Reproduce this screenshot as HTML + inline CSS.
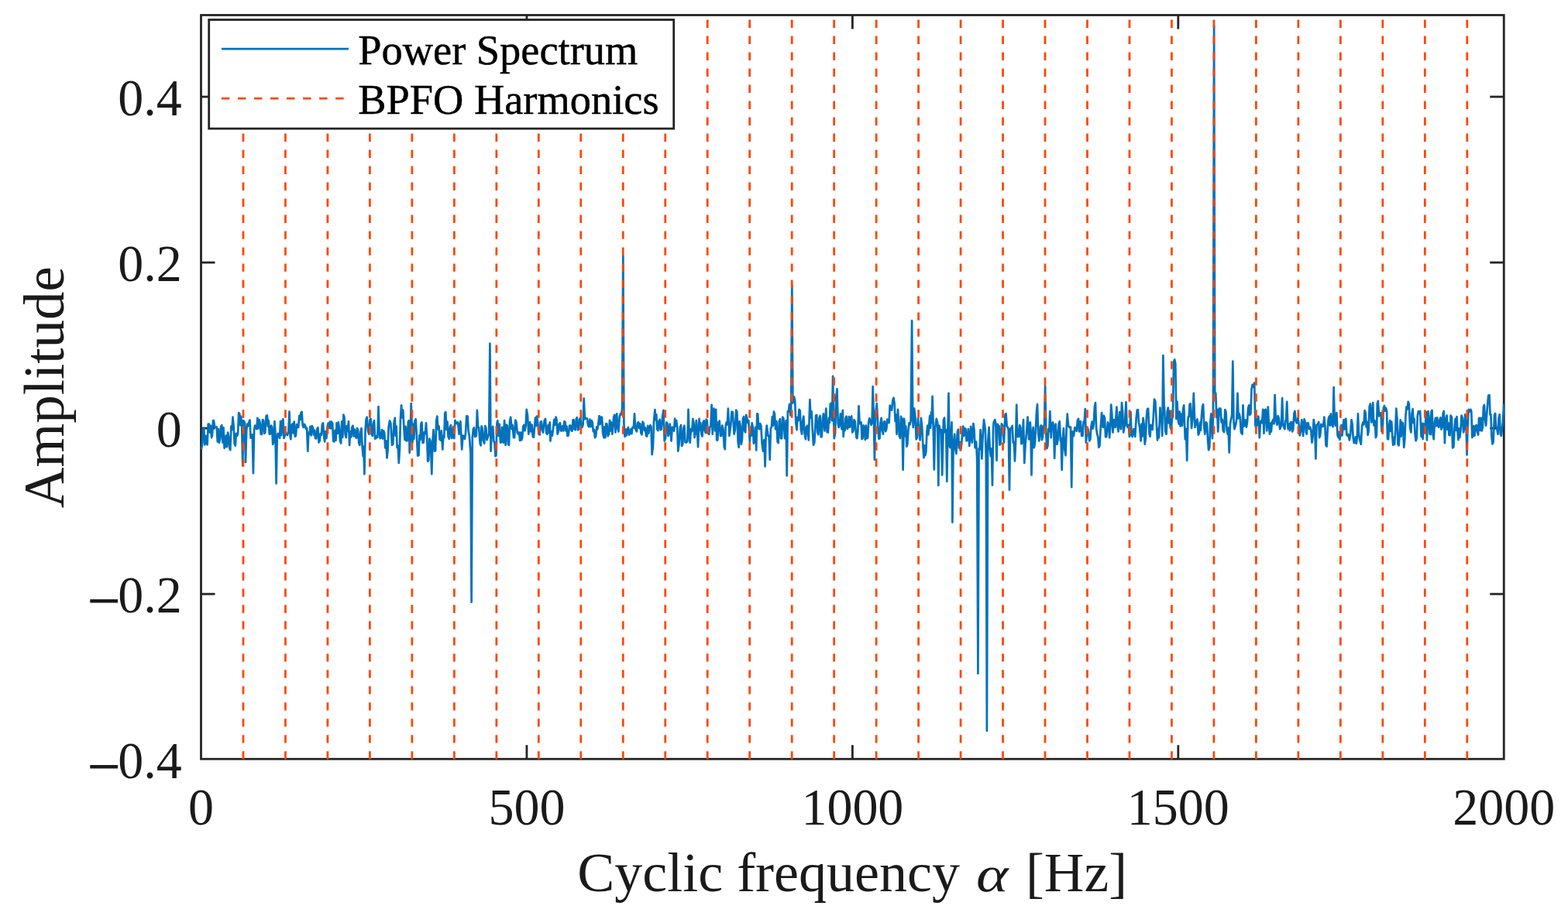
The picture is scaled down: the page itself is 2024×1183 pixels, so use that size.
<!DOCTYPE html>
<html><head><meta charset="utf-8"><title>Power Spectrum</title>
<style>
html,body{margin:0;padding:0;background:#fff;}
body{width:2024px;height:1183px;overflow:hidden;}
svg{display:block;}
text{font-family:"Liberation Serif","DejaVu Serif",serif;fill:#1a1a1a;}
</style></head><body>
<svg width="2024" height="1183" viewBox="0 0 2024 1183">
<rect width="2024" height="1183" fill="#ffffff"/>
<rect x="259.5" y="19.5" width="1681.75" height="960.75" fill="none" stroke="#242424" stroke-width="2.8"/>
<g stroke="#242424" stroke-width="2.8"><line x1="679.94" y1="980.25" x2="679.94" y2="962.25"/><line x1="679.94" y1="19.5" x2="679.94" y2="37.5"/><line x1="1100.38" y1="980.25" x2="1100.38" y2="962.25"/><line x1="1100.38" y1="19.5" x2="1100.38" y2="37.5"/><line x1="1520.81" y1="980.25" x2="1520.81" y2="962.25"/><line x1="1520.81" y1="19.5" x2="1520.81" y2="37.5"/><line x1="259.5" y1="124.98" x2="277.5" y2="124.98"/><line x1="1941.25" y1="124.98" x2="1923.25" y2="124.98"/><line x1="259.5" y1="339.04" x2="277.5" y2="339.04"/><line x1="1941.25" y1="339.04" x2="1923.25" y2="339.04"/><line x1="259.5" y1="553.10" x2="277.5" y2="553.10"/><line x1="1941.25" y1="553.10" x2="1923.25" y2="553.10"/><line x1="259.5" y1="767.16" x2="277.5" y2="767.16"/><line x1="1941.25" y1="767.16" x2="1923.25" y2="767.16"/></g>
<polyline fill="none" stroke="#0072BD" stroke-width="2.7" stroke-linejoin="round" points="259.9,580.4 261.0,575.0 262.1,554.1 263.2,552.7 264.3,574.4 265.4,562.8 266.5,572.7 267.6,574.2 268.7,547.7 269.8,547.5 270.9,558.5 272.0,549.6 273.1,565.1 274.0,561.8 275.0,543.2 275.9,543.1 277.3,552.0 278.6,551.9 279.7,551.3 280.8,570.5 281.9,554.0 283.0,571.6 284.1,566.6 285.2,550.8 286.3,549.2 287.4,571.4 288.5,552.4 289.6,578.8 290.7,576.0 291.8,562.5 292.9,577.1 294.0,558.5 295.1,563.8 296.2,578.2 297.3,581.2 298.4,550.7 299.5,554.8 300.5,538.7 301.6,549.7 302.7,572.7 303.8,575.7 304.9,559.9 306.0,562.9 307.1,560.0 308.2,533.1 309.3,534.3 310.3,549.2 311.2,537.9 312.1,547.9 313.3,601.3 314.2,543.1 315.9,545.7 317.0,596.9 318.2,555.4 319.2,547.5 320.3,550.3 321.4,545.3 322.5,542.5 323.6,565.7 324.7,562.9 325.8,561.4 326.9,611.2 328.1,555.8 329.1,549.5 330.2,551.9 331.3,554.1 332.4,539.8 333.5,553.4 334.6,542.0 335.7,546.4 336.8,560.7 337.9,561.1 339.0,542.0 340.1,542.9 341.2,559.8 342.3,558.5 343.6,537.2 344.9,536.5 345.9,550.6 346.8,543.2 347.8,560.7 348.9,560.4 350.0,549.7 351.1,551.2 352.2,573.8 353.3,570.5 354.4,544.2 355.4,557.8 356.6,624.4 357.7,564.2 358.8,559.9 359.9,562.9 361.0,565.9 362.1,544.1 363.2,562.2 364.3,544.2 365.4,541.2 366.5,565.9 367.6,562.9 368.7,558.6 369.8,560.7 371.1,562.0 372.4,556.8 373.5,531.6 374.7,564.3 375.3,567.3 376.4,549.7 377.5,547.5 378.6,559.3 379.7,544.7 380.8,563.6 381.9,562.9 383.0,548.1 384.1,550.8 385.2,552.0 386.3,536.8 387.4,542.3 388.5,533.2 389.6,531.9 390.7,549.3 391.8,551.9 392.9,547.9 394.0,549.7 395.0,554.0 396.1,552.8 397.3,582.6 398.4,558.7 399.5,560.7 400.5,550.9 401.6,562.3 402.7,550.2 403.8,551.9 404.9,561.5 406.0,555.6 407.1,566.2 408.2,566.3 409.3,554.1 410.4,552.1 411.5,571.4 412.6,569.5 413.7,560.1 414.8,561.7 415.9,548.0 417.0,546.4 418.1,563.4 419.2,570.5 420.3,557.2 421.4,566.0 422.5,551.9 423.6,546.5 424.7,552.9 425.8,544.6 426.9,553.3 428.0,544.6 429.1,546.4 430.2,569.7 431.3,570.5 432.4,555.8 433.5,568.7 434.6,546.3 435.7,559.9 436.8,545.3 437.9,553.0 439.0,569.5 440.1,572.5 441.2,544.4 442.3,564.7 443.4,535.7 444.5,538.7 445.6,560.7 446.7,565.1 447.8,550.0 448.9,556.5 450.0,544.2 451.1,574.9 452.2,557.4 453.3,564.3 454.4,551.9 455.5,549.8 456.6,563.4 457.7,554.5 458.8,562.9 459.9,565.7 461.0,553.0 462.1,555.1 463.2,572.3 464.3,574.9 465.4,558.0 466.5,553.0 467.6,576.4 468.7,589.2 469.3,576.5 470.4,612.3 471.6,555.7 472.7,540.9 473.7,538.7 475.1,557.0 476.4,560.7 477.5,542.4 478.6,540.9 479.7,560.4 480.8,562.9 481.9,547.0 483.0,543.1 484.1,566.6 485.2,566.2 486.2,562.8 487.3,564.9 488.5,525.1 489.6,556.9 490.7,566.2 491.8,564.0 492.9,555.0 494.0,566.5 495.1,556.3 496.2,559.2 497.3,578.4 498.4,569.4 499.5,591.4 500.5,581.8 501.6,551.9 503.0,543.4 504.3,546.4 506.0,574.9 507.3,573.6 508.5,546.4 509.8,539.8 510.7,562.8 511.7,550.6 512.6,578.2 513.7,575.5 514.8,598.0 515.9,580.6 517.0,539.7 518.1,523.3 519.2,539.3 520.3,529.7 521.4,551.9 522.5,568.0 523.6,550.8 524.7,569.5 525.8,568.8 526.9,544.8 528.0,543.1 528.7,584.8 529.7,566.0 530.7,521.1 532.4,571.6 533.4,547.6 534.3,566.8 535.3,544.2 536.6,541.2 537.9,562.9 539.2,588.6 540.5,588.1 541.5,562.2 542.5,568.1 543.4,547.5 544.5,545.5 545.6,572.0 546.7,571.6 547.8,558.1 548.9,559.9 550.0,546.4 551.1,563.4 552.2,595.8 553.3,594.5 554.4,566.5 555.5,569.5 556.1,576.0 557.3,612.3 558.4,570.3 559.5,555.2 561.0,582.6 562.1,582.2 563.2,544.1 564.3,537.6 565.4,554.5 566.5,550.2 567.6,567.3 568.7,568.6 569.8,556.3 571.3,580.4 572.3,563.0 573.3,565.0 574.3,533.3 575.3,532.1 576.4,555.0 577.5,544.5 578.6,564.0 579.7,566.7 580.8,551.9 581.9,549.1 583.0,565.8 584.1,565.1 585.2,551.1 586.3,566.1 587.4,542.9 588.5,545.3 589.8,547.2 591.1,545.3 592.6,560.7 594.4,544.2 596.2,580.4 597.5,562.5 598.8,564.0 599.9,566.8 601.0,559.6 602.3,537.4 603.6,537.6 604.7,556.8 605.8,562.9 607.5,585.4 608.6,777.7 609.8,564.7 610.9,554.1 612.0,552.3 613.1,564.0 614.8,563.0 615.9,529.9 617.1,552.0 618.1,551.9 619.7,572.7 620.6,575.4 621.6,550.4 622.5,553.0 623.8,568.9 625.2,572.7 626.3,550.0 627.4,553.0 628.5,568.1 629.6,565.1 631.2,560.3 632.4,443.6 633.5,582.6 634.8,556.3 636.2,550.8 637.3,569.7 638.4,571.5 639.5,589.2 640.4,588.5 641.4,547.0 642.3,543.1 643.6,562.8 644.8,547.8 646.0,571.6 647.1,571.0 648.2,551.9 649.8,571.6 651.1,543.1 652.6,574.9 653.7,548.6 654.8,549.7 655.9,573.8 657.0,574.8 658.1,543.7 659.2,538.7 660.5,554.2 661.7,549.1 663.0,565.1 664.1,565.1 665.3,542.5 666.5,545.3 667.8,559.1 669.1,560.7 670.1,558.5 671.1,568.9 672.1,558.5 673.1,568.4 674.2,565.0 675.3,550.8 676.4,548.9 677.5,556.3 678.6,549.9 679.7,528.8 681.0,536.4 682.3,560.7 684.1,545.3 685.3,557.3 686.6,548.7 687.8,564.0 688.9,564.7 690.0,551.9 691.0,539.6 691.9,549.8 692.9,537.6 694.2,545.8 695.5,560.7 696.6,561.5 697.7,545.1 698.8,544.2 699.9,555.0 701.0,558.5 702.7,543.1 704.0,540.9 705.2,559.5 706.5,560.7 707.6,548.9 708.7,558.8 709.8,545.3 710.4,569.5 711.7,557.4 712.9,562.6 714.2,551.9 715.3,541.9 716.4,548.8 717.5,538.7 718.6,542.1 719.7,560.7 720.8,557.3 721.9,547.5 723.0,546.2 724.1,556.4 725.2,556.3 726.3,550.2 727.4,556.3 728.5,544.0 729.6,545.3 730.5,556.4 731.5,550.7 732.4,562.9 733.7,562.4 735.1,549.7 736.4,549.6 737.7,556.3 738.6,556.6 739.6,542.2 740.5,542.0 741.6,554.3 742.7,555.2 743.8,540.9 744.9,539.1 746.0,555.3 747.1,554.1 748.2,541.5 749.3,539.8 750.4,550.9 751.5,551.9 752.6,548.3 753.7,514.5 754.9,541.1 756.6,539.8 757.9,540.6 759.2,549.7 760.3,551.2 761.4,541.6 762.5,551.2 763.6,543.1 764.7,545.4 765.8,557.1 766.9,554.9 768.0,565.1 769.1,563.7 770.2,551.4 771.3,554.3 772.4,546.4 773.5,537.2 774.6,548.1 775.7,538.7 777.0,538.8 778.2,560.2 779.5,565.1 780.4,551.2 781.4,565.2 782.4,547.0 783.4,547.5 784.7,563.1 786.0,560.7 787.0,542.8 787.9,556.5 788.9,545.3 790.4,560.7 792.2,538.7 793.3,535.7 794.4,558.5 796.2,534.3 797.3,552.7 798.4,557.4 799.7,538.7 801.0,534.3 802.0,535.3 803.1,528.0 804.3,330.4 805.4,547.5 806.5,564.0 807.6,554.6 808.7,562.3 809.8,554.1 810.9,552.0 812.0,561.6 813.1,559.6 814.2,554.2 815.3,560.2 816.4,551.9 817.9,552.4 819.0,534.3 820.2,553.8 821.9,557.4 823.0,546.3 824.1,545.3 825.2,552.9 826.3,547.0 827.4,559.6 828.5,561.3 829.6,544.6 830.7,546.4 831.8,555.9 832.9,552.2 834.0,562.9 835.1,563.6 836.2,549.9 837.3,559.6 838.4,551.9 839.4,549.1 840.5,551.0 841.6,587.0 842.9,577.4 844.1,543.0 845.4,529.2 846.3,542.1 847.3,535.4 848.2,554.1 849.3,556.2 850.4,544.2 851.5,541.8 852.6,555.3 853.7,554.1 855.1,537.8 856.4,529.9 857.7,569.5 859.0,566.0 860.3,545.3 861.4,547.0 862.5,562.9 863.6,559.5 864.7,547.5 866.5,569.5 867.8,551.6 869.1,554.1 870.1,556.5 871.1,540.6 872.1,550.5 873.1,543.1 874.2,551.7 875.3,582.6 876.6,572.5 877.9,551.9 879.0,548.9 880.1,575.9 881.2,573.8 882.3,553.5 883.4,549.7 884.5,571.1 885.6,571.6 887.3,570.3 888.5,528.8 889.6,560.2 890.7,571.6 891.9,554.2 893.2,557.1 894.4,540.9 895.5,546.5 896.6,565.1 897.7,558.9 898.8,543.1 899.9,554.1 901.0,577.1 902.5,540.9 903.5,555.1 904.4,546.5 905.4,560.7 906.5,563.5 907.6,545.3 908.7,543.3 909.8,556.3 910.7,558.9 911.7,541.7 912.6,543.1 914.0,559.5 915.3,560.7 916.3,551.6 917.4,550.6 918.6,522.9 919.7,560.7 921.4,527.7 923.0,556.3 924.1,528.8 925.2,568.4 926.3,568.6 927.4,545.3 928.7,543.6 930.0,562.9 931.1,563.0 932.2,549.7 933.5,553.8 934.8,577.1 935.8,580.1 936.7,550.0 937.7,545.3 938.8,548.3 939.9,527.7 941.4,562.9 943.2,549.7 944.5,531.7 945.8,532.1 947.6,560.7 948.9,554.9 950.2,529.5 951.4,532.3 952.6,570.5 953.7,577.8 954.6,544.2 955.7,550.3 956.8,573.8 957.9,568.1 959.0,540.9 960.1,538.0 961.2,556.3 962.2,558.3 963.1,535.8 964.1,538.7 965.2,546.1 966.3,543.1 967.8,570.5 968.8,552.2 969.7,562.6 970.7,546.4 971.8,551.9 972.9,572.7 974.0,567.4 975.1,551.9 976.2,581.5 977.3,534.3 978.2,534.8 979.2,553.0 980.1,554.1 981.2,547.1 982.3,549.7 983.6,572.4 984.9,582.6 986.4,568.2 987.6,602.4 988.7,560.2 989.8,549.7 991.5,562.9 992.6,562.8 993.7,593.6 994.9,552.9 995.9,551.9 996.9,538.1 997.9,549.7 998.9,531.7 999.9,534.7 1001.1,554.2 1002.4,544.0 1003.6,570.5 1004.7,572.1 1005.8,544.2 1006.9,541.2 1008.0,566.1 1009.1,566.2 1010.2,538.6 1011.3,540.4 1013.1,566.2 1014.6,543.1 1015.7,614.5 1016.9,531.2 1017.9,531.5 1019.0,522.2 1020.5,536.5 1021.1,528.9 1022.3,368.8 1023.4,520.5 1024.9,512.3 1026.1,516.6 1027.3,545.7 1028.5,555.2 1029.5,538.9 1030.5,543.3 1031.5,528.8 1032.7,530.5 1033.9,555.3 1035.1,560.7 1036.2,544.1 1037.3,537.6 1038.6,560.3 1039.9,567.3 1041.0,551.3 1042.1,549.7 1043.8,568.4 1045.4,516.0 1046.5,539.3 1047.6,531.4 1048.7,554.1 1050.0,574.6 1051.3,571.6 1053.1,536.5 1054.2,536.0 1055.3,558.5 1056.4,561.2 1057.5,539.8 1058.6,536.9 1059.7,564.3 1060.8,564.0 1061.9,541.3 1063.0,534.3 1064.5,556.3 1066.3,527.7 1067.6,557.9 1068.9,558.5 1069.9,539.8 1070.8,546.0 1071.8,521.5 1072.9,520.9 1074.0,543.1 1075.1,485.9 1076.2,544.4 1076.8,566.2 1078.1,558.8 1079.3,512.5 1080.5,502.4 1081.7,546.9 1082.7,551.9 1083.8,549.3 1084.9,534.3 1086.5,554.1 1087.8,529.9 1088.7,564.0 1089.6,547.8 1090.6,555.8 1091.5,539.8 1092.6,537.7 1093.7,553.9 1094.8,551.9 1095.9,538.1 1097.0,551.7 1098.1,539.8 1099.2,537.5 1100.3,558.5 1101.4,556.3 1102.5,542.0 1103.6,544.2 1105.4,565.1 1106.3,566.1 1107.3,557.0 1108.5,524.4 1109.6,547.0 1110.7,547.5 1111.6,545.4 1112.6,567.1 1113.5,566.2 1114.6,549.3 1115.7,551.9 1116.8,567.8 1117.9,549.6 1119.0,566.2 1120.1,565.5 1121.2,545.3 1122.3,540.1 1123.4,543.1 1124.5,548.7 1125.6,545.7 1126.7,499.1 1127.8,536.8 1128.9,593.6 1130.1,533.7 1131.8,521.1 1133.3,549.7 1134.4,566.7 1135.5,566.2 1136.6,546.2 1137.7,539.8 1138.8,555.8 1139.9,560.7 1141.0,544.9 1142.1,544.2 1143.2,557.1 1144.3,554.1 1145.4,541.7 1146.5,543.1 1147.6,546.1 1148.7,523.6 1149.8,526.6 1151.1,529.6 1152.4,516.7 1153.5,513.7 1154.6,521.1 1155.6,544.0 1156.5,535.7 1157.5,560.7 1159.0,528.8 1160.8,562.9 1161.9,565.9 1163.0,537.9 1164.1,540.9 1164.5,544.0 1165.6,606.8 1166.8,540.6 1167.4,543.1 1168.4,563.2 1169.3,550.6 1170.3,576.7 1171.3,573.8 1172.4,556.1 1173.5,546.4 1174.6,548.3 1175.7,543.1 1177.1,414.2 1178.2,538.6 1178.8,551.9 1180.1,527.7 1181.4,537.7 1182.7,567.3 1183.8,565.5 1184.9,540.4 1186.0,554.1 1187.6,568.4 1188.9,539.8 1190.2,551.2 1191.5,578.2 1192.5,591.1 1193.4,575.3 1194.4,588.1 1195.4,582.9 1196.4,558.5 1197.3,549.5 1198.3,561.5 1199.2,549.7 1200.2,537.0 1201.1,552.7 1202.1,532.1 1202.5,546.1 1203.6,511.9 1204.7,549.6 1205.8,606.4 1207.0,553.9 1208.7,540.9 1210.2,546.0 1211.3,627.0 1212.4,549.7 1213.7,558.1 1215.0,555.1 1216.2,613.4 1217.9,542.6 1219.0,539.6 1220.1,558.3 1221.2,555.3 1222.3,621.8 1223.4,558.7 1224.5,507.9 1225.7,576.6 1226.7,578.2 1228.5,545.3 1229.4,674.6 1230.6,574.6 1232.2,560.7 1233.3,580.5 1234.4,585.9 1235.9,557.4 1236.9,554.6 1237.9,578.4 1238.9,570.9 1239.9,581.5 1241.0,575.1 1242.1,560.7 1243.2,550.5 1244.3,563.1 1245.4,553.0 1246.5,554.0 1247.6,569.5 1248.7,568.0 1249.8,554.1 1251.3,576.0 1253.1,550.8 1254.8,571.6 1256.4,547.0 1257.5,554.9 1258.6,578.2 1260.1,570.5 1261.2,593.6 1262.4,870.0 1263.6,579.0 1264.6,580.4 1265.6,555.2 1267.4,592.5 1268.7,561.2 1270.0,542.0 1271.8,554.1 1272.8,592.7 1273.9,943.9 1275.1,572.1 1276.6,551.9 1277.7,579.1 1278.8,589.2 1279.8,579.3 1281.0,626.6 1282.1,552.6 1282.7,545.3 1284.3,542.0 1285.3,547.1 1286.5,594.7 1287.6,547.8 1288.7,553.0 1289.6,550.0 1290.6,574.6 1291.5,573.8 1292.9,547.4 1294.2,549.7 1295.9,571.6 1297.5,535.4 1298.6,534.3 1299.7,550.4 1300.8,551.9 1301.8,554.8 1303.0,632.7 1304.1,553.4 1305.6,553.0 1306.7,550.0 1307.8,571.6 1308.8,570.8 1310.0,595.4 1311.1,569.9 1312.2,522.9 1313.3,563.8 1315.1,564.0 1316.2,549.0 1317.3,551.9 1318.4,573.4 1319.5,571.6 1321.0,542.0 1322.3,598.0 1323.6,574.0 1324.9,560.7 1326.5,538.7 1328.2,567.3 1329.8,545.3 1330.4,554.4 1331.5,613.4 1332.7,560.3 1333.7,551.9 1334.8,578.2 1335.9,572.8 1337.0,551.9 1338.0,531.7 1339.0,522.2 1340.2,560.1 1341.4,569.5 1343.0,550.8 1343.9,549.4 1344.9,568.1 1345.8,565.1 1346.9,550.2 1348.0,551.9 1349.1,498.7 1350.3,559.1 1351.3,579.0 1352.4,576.0 1353.4,553.8 1354.3,557.1 1355.3,531.0 1356.8,565.1 1357.9,547.3 1359.0,545.3 1360.1,551.9 1361.2,591.9 1362.4,548.8 1362.7,547.5 1364.5,573.8 1365.6,567.4 1366.7,547.0 1367.8,544.2 1368.9,569.5 1369.5,566.2 1370.7,606.8 1371.8,566.7 1372.9,553.0 1374.2,579.6 1375.5,588.1 1376.6,555.4 1377.7,534.7 1379.0,549.7 1380.3,551.9 1382.0,551.6 1383.2,629.2 1384.3,557.3 1386.0,562.9 1387.4,552.0 1388.7,554.1 1389.8,556.7 1390.9,543.1 1392.0,540.7 1393.1,557.4 1394.8,544.2 1396.2,562.9 1397.5,562.9 1398.6,544.7 1399.7,546.3 1400.8,528.1 1401.9,571.6 1403.2,555.0 1404.5,554.1 1406.3,569.5 1407.4,567.2 1408.5,550.8 1409.6,544.7 1410.7,553.5 1411.8,547.5 1412.9,526.1 1414.0,520.0 1415.1,553.0 1416.2,560.7 1417.3,564.6 1418.4,577.8 1419.5,575.4 1420.5,556.3 1422.1,533.2 1423.8,551.9 1424.9,536.9 1426.0,539.8 1427.1,564.3 1428.2,564.0 1430.0,545.3 1431.1,548.8 1432.2,565.1 1433.2,550.6 1434.2,522.6 1435.3,534.7 1436.4,558.5 1438.1,542.0 1439.7,551.9 1441.4,525.5 1442.5,549.6 1443.6,557.4 1445.2,532.1 1446.9,554.1 1448.0,520.0 1449.1,531.5 1450.2,558.5 1452.0,547.5 1453.5,519.3 1454.6,550.1 1455.7,551.9 1456.8,548.9 1457.9,564.0 1459.5,532.1 1460.5,561.7 1461.6,564.0 1463.4,554.1 1465.2,564.0 1466.7,539.8 1467.8,529.5 1468.9,529.2 1470.0,545.7 1471.1,551.9 1472.6,569.5 1473.6,547.5 1474.5,563.6 1475.5,539.8 1476.6,547.2 1477.7,573.8 1478.8,567.1 1479.9,538.7 1481.0,528.4 1482.1,527.7 1483.6,560.7 1484.6,563.7 1485.5,548.9 1486.5,551.9 1487.6,554.9 1488.7,539.8 1490.0,515.5 1491.3,518.2 1493.1,551.9 1494.0,568.5 1495.0,553.6 1495.9,565.5 1497.5,526.6 1498.4,544.6 1499.4,544.4 1500.3,562.9 1501.4,459.1 1502.6,525.4 1503.0,525.5 1504.3,557.5 1505.6,560.7 1506.7,531.5 1507.8,526.6 1508.8,546.4 1509.7,530.8 1510.7,551.9 1511.8,554.9 1512.9,540.4 1513.9,538.2 1515.1,467.3 1516.2,464.3 1517.3,469.5 1518.4,540.9 1519.5,518.9 1520.5,540.4 1521.6,547.5 1522.6,531.7 1523.6,550.4 1524.5,534.7 1526.0,549.7 1527.1,528.6 1528.2,523.3 1529.8,567.3 1531.0,553.8 1532.2,594.7 1533.3,545.8 1533.7,538.7 1534.7,538.1 1535.6,522.1 1536.6,521.1 1538.1,553.0 1539.5,539.5 1540.8,507.9 1542.5,551.9 1544.3,544.2 1545.5,541.4 1546.8,561.7 1548.0,558.9 1549.0,545.5 1549.9,555.6 1550.9,538.7 1552.0,525.7 1553.1,522.2 1554.2,549.3 1555.3,560.7 1556.8,545.3 1557.9,546.8 1559.0,567.3 1560.1,581.2 1561.2,578.2 1562.3,544.9 1563.4,534.3 1564.9,566.2 1565.9,538.3 1567.1,33.3 1568.2,507.7 1569.3,507.9 1570.3,539.0 1571.2,528.9 1572.2,557.4 1573.7,527.7 1575.5,527.7 1576.6,545.2 1577.7,541.7 1578.8,556.3 1580.0,558.1 1581.3,529.1 1582.5,532.1 1583.6,555.5 1584.7,560.7 1585.6,552.6 1586.7,584.4 1587.9,548.6 1588.7,543.1 1590.2,536.4 1591.3,466.6 1592.5,544.7 1593.5,554.1 1595.3,547.5 1596.3,541.0 1597.5,507.9 1598.6,540.3 1599.7,534.3 1600.8,539.8 1601.9,558.5 1603.6,560.7 1604.5,523.3 1605.6,550.6 1606.7,548.6 1607.8,542.3 1608.9,551.6 1610.0,545.3 1611.1,527.1 1612.2,523.3 1613.3,535.8 1614.4,534.3 1615.5,503.0 1616.6,496.9 1617.9,499.9 1619.2,494.3 1620.4,548.6 1621.0,551.9 1622.1,541.0 1623.2,548.8 1624.3,537.6 1625.8,565.1 1626.9,545.0 1628.0,543.1 1629.1,546.1 1630.2,528.8 1631.5,559.6 1632.6,529.7 1633.7,528.8 1635.3,556.3 1636.8,525.5 1637.9,549.4 1639.0,560.7 1640.0,546.7 1640.9,557.4 1641.9,545.3 1643.4,542.0 1644.5,547.4 1645.6,510.1 1646.8,541.3 1648.5,548.6 1649.6,537.0 1650.7,539.8 1652.2,554.1 1653.9,549.7 1655.1,514.1 1656.2,547.1 1657.3,551.9 1658.4,554.2 1659.5,543.1 1660.1,542.0 1661.2,518.9 1662.4,551.3 1662.7,554.1 1663.8,547.5 1664.9,556.2 1666.0,545.3 1667.1,545.2 1668.2,557.4 1669.3,554.3 1670.4,534.3 1671.5,531.0 1672.6,543.3 1673.7,546.4 1675.5,539.8 1676.6,548.4 1677.7,562.4 1679.0,556.9 1680.3,542.0 1682.1,562.9 1683.6,541.3 1684.7,544.8 1685.8,558.5 1686.8,560.6 1687.7,546.1 1688.7,546.4 1690.0,554.0 1691.3,551.9 1692.4,556.7 1693.5,571.6 1694.6,563.5 1695.7,542.0 1697.2,552.5 1698.4,592.5 1699.5,548.8 1701.2,547.5 1702.2,544.9 1703.1,565.2 1704.1,562.9 1705.4,547.9 1706.7,550.8 1708.0,550.6 1709.3,538.7 1710.4,550.0 1711.5,574.9 1712.6,576.6 1713.7,554.1 1714.8,541.0 1715.9,537.6 1716.9,549.5 1717.8,534.7 1718.8,547.5 1720.5,551.1 1721.6,500.2 1722.8,544.3 1723.8,549.7 1725.4,533.2 1726.5,562.1 1727.6,565.1 1728.5,557.9 1729.5,567.8 1730.4,560.7 1731.5,549.1 1732.5,562.4 1733.5,551.9 1734.5,542.3 1735.4,554.3 1736.4,542.0 1737.3,540.8 1738.3,561.4 1739.2,562.9 1740.5,560.8 1741.9,568.4 1743.2,560.5 1744.5,542.0 1745.6,547.4 1746.7,565.1 1747.8,572.2 1748.9,570.5 1749.8,564.3 1750.8,572.9 1751.7,566.6 1752.9,534.3 1754.0,560.0 1755.1,567.3 1756.8,573.8 1758.1,549.9 1759.5,545.3 1760.5,548.3 1761.6,530.2 1762.7,533.2 1763.7,551.5 1764.7,544.9 1765.6,561.8 1766.6,557.5 1767.7,525.1 1768.7,521.5 1770.4,545.3 1772.2,520.0 1773.4,549.3 1774.7,543.4 1775.9,565.1 1776.9,562.3 1777.8,521.2 1778.8,517.8 1780.1,537.3 1781.4,534.3 1782.5,533.1 1783.6,557.4 1784.7,553.5 1785.8,527.7 1786.9,524.0 1788.0,530.7 1789.1,527.0 1790.1,531.9 1791.0,566.6 1792.0,567.3 1793.1,549.6 1794.2,543.1 1795.2,556.8 1796.2,544.5 1797.3,564.0 1798.2,574.6 1799.2,565.1 1800.1,573.8 1801.2,555.9 1802.3,527.7 1803.4,540.3 1804.5,573.8 1805.6,575.4 1806.7,560.7 1807.7,542.3 1808.6,563.7 1809.6,545.3 1810.9,546.7 1812.2,577.8 1813.3,567.9 1814.4,537.3 1815.5,525.5 1816.6,528.5 1817.7,518.8 1818.8,521.8 1820.1,552.1 1821.4,558.5 1822.5,533.9 1823.6,528.1 1824.6,546.2 1825.5,540.8 1826.5,560.7 1827.6,569.2 1828.7,566.2 1829.8,536.9 1830.9,531.0 1832.0,534.0 1833.1,531.0 1834.6,564.0 1835.6,546.9 1836.6,567.0 1837.6,547.2 1838.6,549.7 1839.7,552.7 1840.8,532.1 1841.9,568.4 1843.4,531.0 1844.5,538.0 1845.6,560.7 1846.6,561.0 1847.5,531.5 1848.5,529.9 1849.6,560.9 1850.7,567.3 1851.8,546.7 1852.9,539.8 1854.0,550.1 1855.1,539.4 1856.2,549.7 1857.3,551.9 1858.4,542.0 1859.5,539.2 1860.5,554.6 1861.6,551.9 1862.7,534.0 1863.8,531.0 1864.9,572.1 1866.1,542.5 1867.6,536.5 1868.5,554.9 1869.5,546.2 1870.4,561.8 1871.5,562.2 1872.6,536.5 1873.9,538.6 1875.1,578.5 1876.4,577.1 1877.5,553.2 1878.6,540.9 1879.5,555.6 1880.5,538.0 1881.4,556.3 1882.4,568.1 1883.3,553.3 1884.3,565.1 1885.4,556.0 1886.5,536.5 1887.8,539.7 1889.1,558.5 1890.2,552.9 1891.3,535.4 1892.4,544.3 1893.5,587.5 1894.6,548.8 1895.7,528.8 1897.0,531.8 1898.4,528.8 1899.3,531.7 1900.3,564.9 1901.2,562.9 1902.3,550.0 1903.4,562.8 1904.5,551.9 1905.8,548.9 1907.1,558.5 1908.1,561.5 1909.0,540.1 1910.0,539.8 1911.0,555.9 1911.9,539.9 1912.9,556.3 1913.9,552.0 1914.9,525.6 1915.9,522.9 1917.0,542.5 1918.1,549.7 1919.9,525.5 1921.2,510.9 1922.5,510.1 1923.5,535.5 1924.4,535.1 1925.4,564.0 1926.5,573.5 1927.6,570.5 1929.1,535.4 1930.1,534.0 1931.0,551.3 1932.0,551.9 1933.5,560.7 1934.6,539.9 1935.7,535.4 1936.8,560.8 1937.9,562.9 1939.7,547.5 1941.2,522.2"/>
<g stroke="#FF4500" stroke-width="2.75" stroke-dasharray="10.4 10.59" fill="none"><line x1="313.98" y1="25.6" x2="313.98" y2="980.9"/><line x1="368.45" y1="25.6" x2="368.45" y2="980.9"/><line x1="422.93" y1="25.6" x2="422.93" y2="980.9"/><line x1="477.40" y1="25.6" x2="477.40" y2="980.9"/><line x1="531.88" y1="25.6" x2="531.88" y2="980.9"/><line x1="586.36" y1="25.6" x2="586.36" y2="980.9"/><line x1="640.83" y1="25.6" x2="640.83" y2="980.9"/><line x1="695.31" y1="25.6" x2="695.31" y2="980.9"/><line x1="749.78" y1="25.6" x2="749.78" y2="980.9"/><line x1="804.26" y1="25.6" x2="804.26" y2="980.9"/><line x1="858.74" y1="25.6" x2="858.74" y2="980.9"/><line x1="913.21" y1="25.6" x2="913.21" y2="980.9"/><line x1="967.69" y1="25.6" x2="967.69" y2="980.9"/><line x1="1022.17" y1="25.6" x2="1022.17" y2="980.9"/><line x1="1076.64" y1="25.6" x2="1076.64" y2="980.9"/><line x1="1131.12" y1="25.6" x2="1131.12" y2="980.9"/><line x1="1185.59" y1="25.6" x2="1185.59" y2="980.9"/><line x1="1240.07" y1="25.6" x2="1240.07" y2="980.9"/><line x1="1294.55" y1="25.6" x2="1294.55" y2="980.9"/><line x1="1349.02" y1="25.6" x2="1349.02" y2="980.9"/><line x1="1403.50" y1="25.6" x2="1403.50" y2="980.9"/><line x1="1457.97" y1="25.6" x2="1457.97" y2="980.9"/><line x1="1512.45" y1="25.6" x2="1512.45" y2="980.9"/><line x1="1566.93" y1="25.6" x2="1566.93" y2="980.9"/><line x1="1621.40" y1="25.6" x2="1621.40" y2="980.9"/><line x1="1675.88" y1="25.6" x2="1675.88" y2="980.9"/><line x1="1730.35" y1="25.6" x2="1730.35" y2="980.9"/><line x1="1784.83" y1="25.6" x2="1784.83" y2="980.9"/><line x1="1839.31" y1="25.6" x2="1839.31" y2="980.9"/><line x1="1893.78" y1="25.6" x2="1893.78" y2="980.9"/></g>
<text transform="translate(259.50,1064.6) scale(1,1.03)" text-anchor="middle" font-size="66">0</text><text transform="translate(679.94,1064.6) scale(1,1.03)" text-anchor="middle" font-size="66">500</text><text transform="translate(1100.38,1064.6) scale(1,1.03)" text-anchor="middle" font-size="66">1000</text><text transform="translate(1520.81,1064.6) scale(1,1.03)" text-anchor="middle" font-size="66">1500</text><text transform="translate(1941.25,1064.6) scale(1,1.03)" text-anchor="middle" font-size="66">2000</text><text transform="translate(234.8,149.18) scale(1,1.03)" text-anchor="end" font-size="66">0.4</text><text transform="translate(234.8,363.24) scale(1,1.03)" text-anchor="end" font-size="66">0.2</text><text transform="translate(234.8,577.30) scale(1,1.03)" text-anchor="end" font-size="66">0</text><text transform="translate(234.8,791.36) scale(1,1.03)" text-anchor="end" font-size="66"><tspan font-size="68" dy="1.55" stroke="#1a1a1a" stroke-width="0.9">–</tspan><tspan dy="-1.55" dx="1.2">0.2</tspan></text><text transform="translate(234.8,1005.42) scale(1,1.03)" text-anchor="end" font-size="66"><tspan font-size="68" dy="1.55" stroke="#1a1a1a" stroke-width="0.9">–</tspan><tspan dy="-1.55" dx="1.2">0.4</tspan></text>
<text y="1151" font-size="72"><tspan x="745.2">Cyclic frequency </tspan><tspan x="1260.0" font-size="65.7" font-style="italic" textLength="41.5" lengthAdjust="spacingAndGlyphs">α</tspan><tspan x="1306.1" font-size="71.5"> [Hz]</tspan></text>
<text transform="translate(82,500.2) rotate(-90)" text-anchor="middle" font-size="73">Amplitude</text>
<rect x="269.7" y="25.5" width="600" height="140.6" fill="#fff" stroke="#242424" stroke-width="2.8"/>
<line x1="285.9" y1="63.2" x2="450" y2="63.2" stroke="#0072BD" stroke-width="2.7"/>
<line x1="285.9" y1="127.1" x2="450" y2="127.1" stroke="#FF4500" stroke-width="2.7" stroke-dasharray="10.5 10.53"/>
<text x="462.3" y="83.2" font-size="54.4" style="fill:#000" stroke="#000" stroke-width="0.45">Power Spectrum</text>
<text x="462.3" y="147" font-size="54.4" style="fill:#000" stroke="#000" stroke-width="0.45">BPFO Harmonics</text>
</svg></body></html>
